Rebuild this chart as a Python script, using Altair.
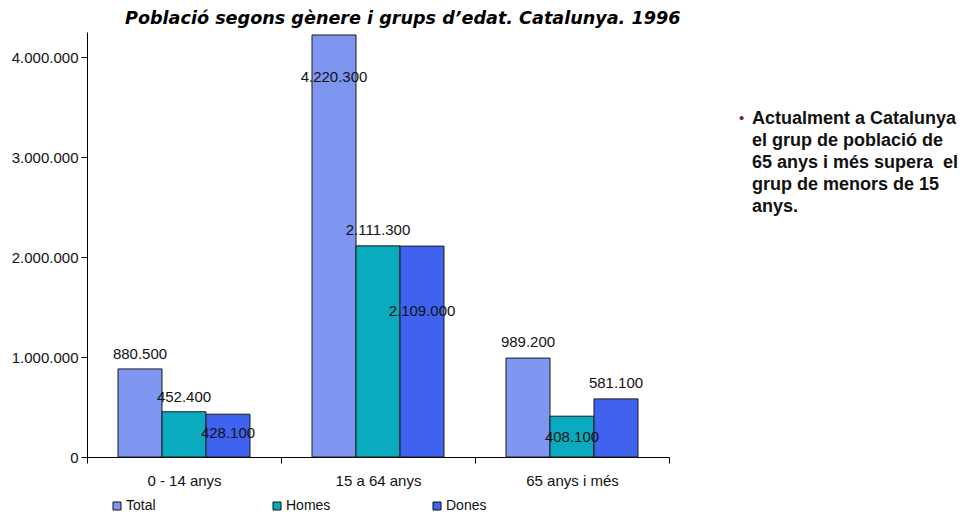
import altair as alt
import pandas as pd

# ---- data ----
groups = ["0 - 14 anys", "15 a 64 anys", "65 anys i més"]
series = ["Total", "Homes", "Dones"]
total = [880500, 4220300, 989200]
homes = [452400, 2111300, 408100]
dones = [428100, 2109000, 581100]
colors = ["#7F96F0", "#0AAABF", "#3F63EE"]
# label placement offsets (pixels from bar top), as in the original
dy_total = [-15, 42, -16]
dy_homes = [-15, -16, 21]
dy_dones = [19, 65, -16]

note_lines = [
    "Actualment a Catalunya",
    "el grup de població de",
    "65 anys i més supera\u00a0 el",
    "grup de menors de 15",
    "anys.",
]
title_text = "Població segons gènere i grups d’edat. Catalunya. 1996"

rows = []
for s, vals, dys in zip(series, [total, homes, dones], [dy_total, dy_homes, dy_dones]):
    for g, v, d in zip(groups, vals, dys):
        rows.append({"grup": g, "serie": s, "valor": v,
                     "etiqueta": f"{v:,}".replace(",", "."), "dy": d})
df = pd.DataFrame(rows)

W, H = 582, 425
FONT = "Liberation Sans"

x_enc = alt.X("grup:N", sort=groups, title=None,
              scale=alt.Scale(paddingInner=0, paddingOuter=0),
              axis=alt.Axis(labelAngle=0, tickBand="extent", tickSize=6,
                            labelPadding=10, labelFontSize=15, labelFont=FONT,
                            labelColor="#111", domainColor="#000", tickColor="#000",
                            grid=False))
xoff = alt.XOffset("serie:N", sort=series,
                   scale=alt.Scale(paddingInner=0, paddingOuter=0.705))
y_scale = alt.Scale(domain=[0, 4250000], nice=False)

bars = alt.Chart(df).mark_bar(stroke="#1a1a1a", strokeWidth=1).encode(
    x=x_enc,
    xOffset=xoff,
    y=alt.Y("valor:Q", scale=y_scale, title=None,
            axis=alt.Axis(values=[0, 1000000, 2000000, 3000000, 4000000],
                          labelExpr="replace(replace(format(datum.value, ','), ',', '.'), ',', '.')",
                          tickSize=6, labelPadding=3, labelFontSize=15, labelFont=FONT,
                          labelColor="#111", domainColor="#000", tickColor="#000",
                          grid=False)),
    color=alt.Color("serie:N", sort=series,
                    scale=alt.Scale(domain=series, range=colors),
                    legend=alt.Legend(title=None, orient="none", direction="horizontal",
                                      legendX=23, legendY=467, symbolType="square",
                                      symbolSize=64, symbolStrokeColor="#111",
                                      symbolStrokeWidth=1, symbolOpacity=1,
                                      labelFontSize=14, labelFont=FONT, labelColor="#111",
                                      labelOffset=2, columnPadding=99, gridAlign="all",
                                      padding=0)),
)

# one text layer per label so that each keeps its own offset from the bar top
label_layers = []
for i in range(len(df)):
    r = df.iloc[i]
    label_layers.append(
        alt.Chart(df).transform_filter(
            (alt.datum.grup == r["grup"]) & (alt.datum.serie == r["serie"])
        ).mark_text(font=FONT, fontSize=15, color="#111", baseline="middle",
                    align="center", dy=int(r["dy"])).encode(
            x=alt.X("grup:N", sort=groups),
            xOffset=xoff,
            y=alt.Y("valor:Q", scale=y_scale),
            text="etiqueta:N",
        )
    )

note_df = pd.DataFrame({"k": [0]})
bullet = alt.Chart(note_df).mark_text(text="•", font=FONT, fontSize=15,
                                      color="#8B1A3A", align="left",
                                      baseline="middle").encode(
    x=alt.value(652), y=alt.value(86))
note = alt.Chart(note_df).mark_text(text=note_lines, font=FONT, fontSize=18,
                                    fontWeight="bold", color="#111", align="left",
                                    baseline="alphabetic", lineHeight=22).encode(
    x=alt.value(665), y=alt.value(91.5))

chart = alt.layer(bars, *label_layers, bullet, note).properties(
    width=W, height=H,
    title=alt.TitleParams(title_text, anchor="start", frame="group", dx=38, offset=4,
                          font="DejaVu Sans", fontSize=17.6, fontWeight="bold",
                          fontStyle="italic", color="#000"),
    autosize=alt.AutoSizeParams(type="none"),
    padding={"left": 79, "top": 24, "right": 291, "bottom": 58},
).configure_view(stroke=None)

chart.save("out.html", embed_options={"renderer": "svg", "actions": False})
